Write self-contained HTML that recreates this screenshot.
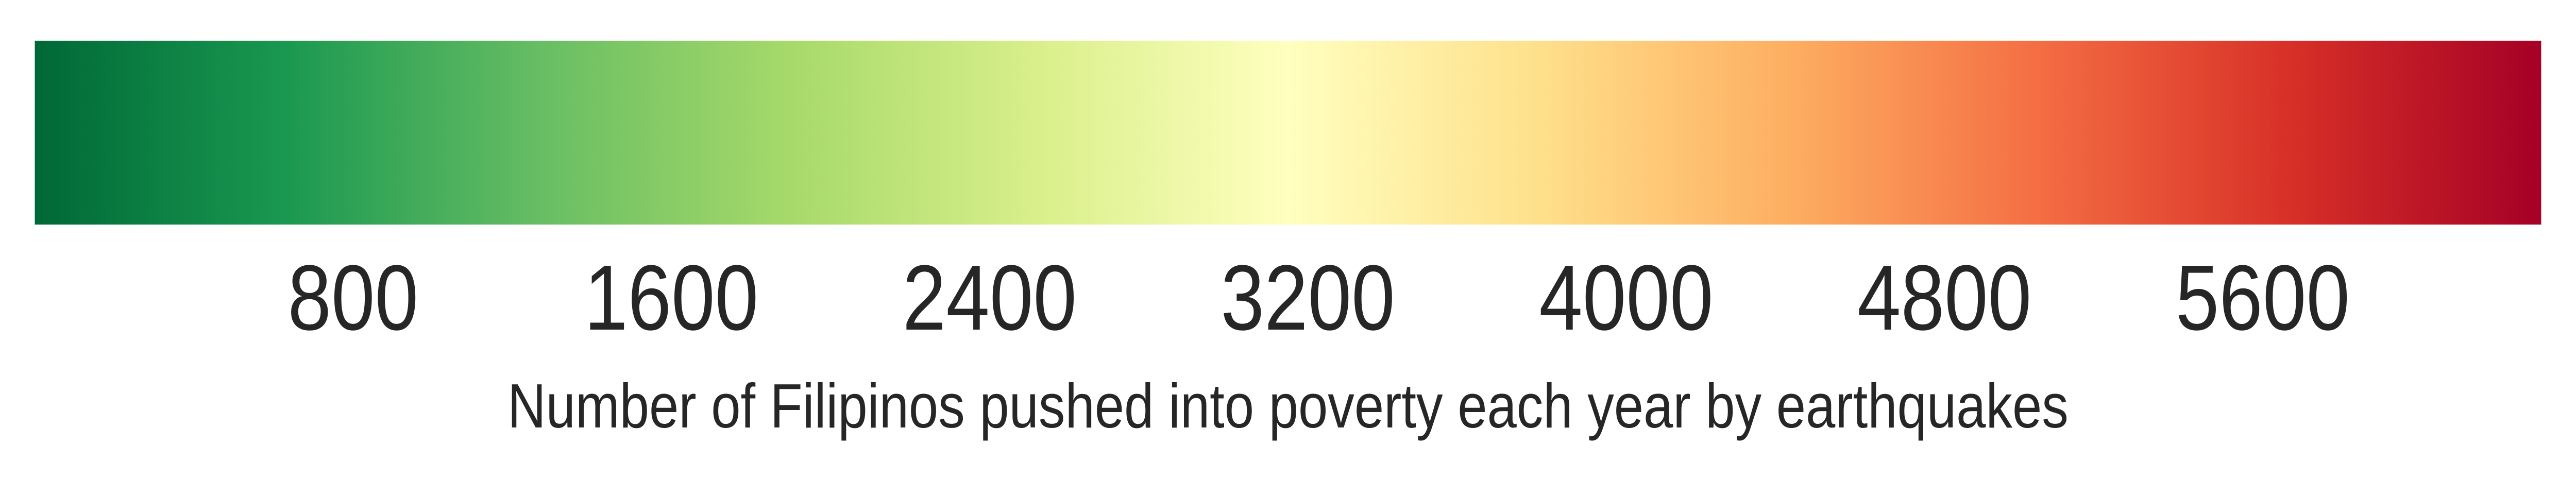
<!DOCTYPE html>
<html><head><meta charset="utf-8"><style>
html,body{margin:0;padding:0;background:#fff;width:100%;height:100%;overflow:hidden;}
svg{display:block;width:100vw;height:100vh;}
text{font-family:"Liberation Sans",Arial,sans-serif;fill:#262626;}
</style></head><body>
<svg id="chart" viewBox="0 0 5920 932" preserveAspectRatio="none">
<defs>
<linearGradient id="cmap" x1="0" x2="1" y1="0" y2="0">
<stop offset="0" stop-color="#006837"/>
<stop offset="0.1" stop-color="#1a9850"/>
<stop offset="0.2" stop-color="#66bd63"/>
<stop offset="0.3" stop-color="#a6d96a"/>
<stop offset="0.4" stop-color="#d9ef8b"/>
<stop offset="0.5" stop-color="#ffffbf"/>
<stop offset="0.6" stop-color="#fee08b"/>
<stop offset="0.7" stop-color="#fdae61"/>
<stop offset="0.8" stop-color="#f46d43"/>
<stop offset="0.9" stop-color="#d73027"/>
<stop offset="1" stop-color="#a50026"/>
</linearGradient>
</defs>
<rect x="80" y="79" width="5760" height="357" fill="url(#cmap)"/>
<g id="ticks"></g>
<text x="2960" y="830" font-size="122" text-anchor="middle">Number of Filipinos pushed into poverty each year by earthquakes</text>
</svg>
<script>
const tickValues = [800, 1600, 2400, 3200, 4000, 4800, 5600];
const tickLabels = ["800", "1600", "2400", "3200", "4000", "4800", "5600"];
const domain = [0, 6300];
const x0 = 80, x1 = 5840;
function xScale(v){ return x0 + (v - domain[0]) / (domain[1] - domain[0]) * (x1 - x0); }
const g = document.getElementById('ticks');
const ns = 'http://www.w3.org/2000/svg';
tickValues.forEach((v, i) => {
  const t = document.createElementNS(ns, 'text');
  t.setAttribute('x', xScale(v));
  t.setAttribute('y', 640);
  t.setAttribute('font-size', 180);
  t.setAttribute('text-anchor', 'middle');
  t.textContent = tickLabels[i];
  
  
  g.appendChild(t);
});
</script>
</body></html>
